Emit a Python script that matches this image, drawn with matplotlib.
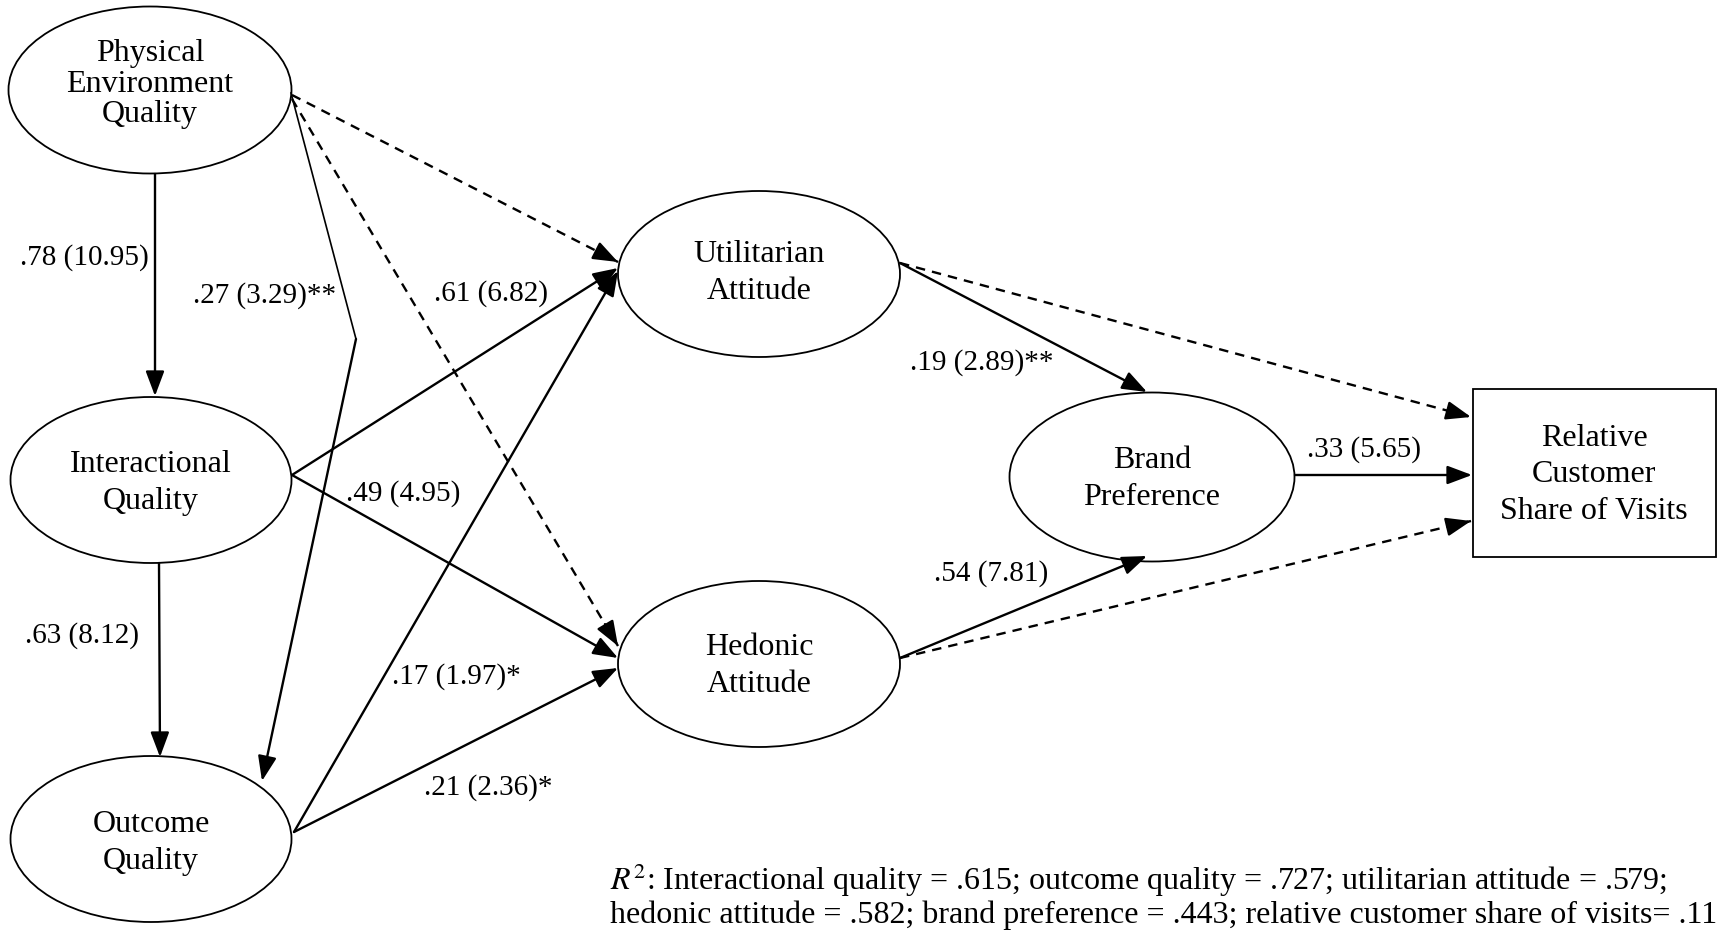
import matplotlib
matplotlib.use("Agg")
import matplotlib.pyplot as plt
from matplotlib.patches import Ellipse, Rectangle, FancyArrowPatch

plt.rcParams['font.family'] = ['Liberation Serif', 'DejaVu Serif']
plt.rcParams['mathtext.fontset'] = 'stix'

# constructs (latent variables) and the observed outcome
latent_names = ["Physical\nEnvironment\nQuality", "Interactional\nQuality", "Outcome\nQuality",
                "Utilitarian\nAttitude", "Hedonic\nAttitude", "Brand\nPreference"]
outcome_name = "Relative\nCustomer\nShare of Visits"

# path estimates: coefficient, t-value, significance stars
path_from = ["PE", "IQ", "PE", "IQ", "IQ", "OQ", "OQ", "UA", "HA", "BP"]
path_to   = ["IQ", "OQ", "OQ", "UA", "HA", "UA", "HA", "BP", "BP", "RV"]
path_coef = [".78", ".63", ".27", ".61", ".49", ".17", ".21", ".19", ".54", ".33"]
path_t    = ["10.95", "8.12", "3.29", "6.82", "4.95", "1.97", "2.36", "2.89", "7.81", "5.65"]
path_sig  = ["", "", "**", "", "", "*", "*", "**", "", ""]

# non-significant (dashed) paths
dashed_from = ["PE", "PE", "UA", "HA"]
dashed_to   = ["UA", "HA", "RV", "RV"]

r2_names = ["Interactional quality", "outcome quality", "utilitarian attitude",
            "hedonic attitude", "brand preference", "relative customer share of visits"]
r2_values = [".615", ".727", ".579", ".582", ".443", ".11"]

fig = plt.figure(figsize=(17.2, 9.34), dpi=100)
ax = fig.add_axes([0, 0, 1, 1])
ax.set_xlim(0, 1720)
ax.set_ylim(934, 0)
ax.axis('off')

FS = 23     # node text
LFS = 21    # path labels

# layout
centers = {"PE": (150, 90), "IQ": (151, 480), "OQ": (151, 839),
           "UA": (759, 274), "HA": (759, 664), "BP": (1152, 477)}
sizes = {"PE": (283, 167), "IQ": (281, 166), "OQ": (281, 166),
         "UA": (282, 166), "HA": (282, 166), "BP": (285, 169)}
text_dy = {"PE": -6, "IQ": 3, "OQ": 4, "UA": -1, "HA": 2, "BP": 2}
keys = ["PE", "IQ", "OQ", "UA", "HA", "BP"]

for k, name in zip(keys, latent_names):
    cx, cy = centers[k]
    w, h = sizes[k]
    ax.add_patch(Ellipse((cx, cy), w, h, fill=False, lw=1.3, ec='black'))
    ls = 1.05 if k == "PE" else 1.33
    ax.text(cx, cy + text_dy[k], name, ha='center', va='center', fontsize=FS, linespacing=ls)

ax.add_patch(Rectangle((1473, 389), 243, 168, fill=False, lw=1.3, ec='black'))
ax.text(1594, 475, outcome_name, ha='center', va='center', fontsize=FS, linespacing=1.33)

# arrow start/end points on the shapes
ends = {
    ("PE", "IQ"): ((155, 174), (155, 396)),
    ("IQ", "OQ"): ((159, 563), (160, 757)),
    ("PE", "OQ"): ((356, 339), (262, 781)),
    ("IQ", "UA"): ((292, 475), (618, 268)),
    ("IQ", "HA"): ((292, 475), (618, 658)),
    ("OQ", "UA"): ((294, 832), (618, 271)),
    ("OQ", "HA"): ((294, 832), (618, 668)),
    ("UA", "BP"): ((900, 263), (1147, 392)),
    ("HA", "BP"): ((900, 658), (1147, 556)),
    ("BP", "RV"): ((1295, 475), (1472, 475)),
    ("PE", "UA"): ((292, 95), (618, 262)),
    ("PE", "HA"): ((292, 99), (618, 646)),
    ("UA", "RV"): ((900, 263), (1471, 417)),
    ("HA", "RV"): ((900, 658), (1471, 521)),
}

head = '-|>,head_length=0.8,head_width=0.3'
MS = 19


def arrow(p0, p1, dashed=False, lw=1.7):
    if dashed:
        ax.plot([p0[0], p1[0]], [p0[1], p1[1]], color='black', lw=lw, ls=(0, (4, 3)))
        # solid head on the last bit
        f = 0.96
        q = (p0[0] + (p1[0] - p0[0]) * f, p0[1] + (p1[1] - p0[1]) * f)
        ax.add_patch(FancyArrowPatch(q, p1, arrowstyle=head, mutation_scale=MS,
                                     color='black', lw=lw, shrinkA=0, shrinkB=0))
    else:
        ax.add_patch(FancyArrowPatch(p0, p1, arrowstyle=head, mutation_scale=MS,
                                     color='black', lw=lw, shrinkA=0, shrinkB=0))


# thin kinked part of the PE -> OQ path
ax.plot([291, 356], [93, 339], color='black', lw=1.2)

for a, b in zip(path_from, path_to):
    p0, p1 = ends[(a, b)]
    arrow(p0, p1)
for a, b in zip(dashed_from, dashed_to):
    p0, p1 = ends[(a, b)]
    arrow(p0, p1, dashed=True)

label_pos = [(84, 258), (82, 636), (265, 296), (491, 294), (403, 494),
             (456, 677), (488, 788), (982, 363), (991, 574), (1364, 450)]
for c, t, s, (x, y) in zip(path_coef, path_t, path_sig, label_pos):
    ax.text(x, y, f"{c} ({t}){s}", ha='center', va='center', fontsize=LFS)

parts = [f"{n} = {v}" for n, v in zip(r2_names, r2_values)]
line1 = "$\\mathit{R}^{2}$: " + "; ".join(parts[:3]) + ";"
line2 = "; ".join(parts[3:5]) + "; " + parts[5].replace(" = ", "= ")
ax.text(610, 880, line1, ha='left', va='center', fontsize=FS)
ax.text(610, 915, line2, ha='left', va='center', fontsize=FS)

fig.savefig("out.png", dpi=100)
